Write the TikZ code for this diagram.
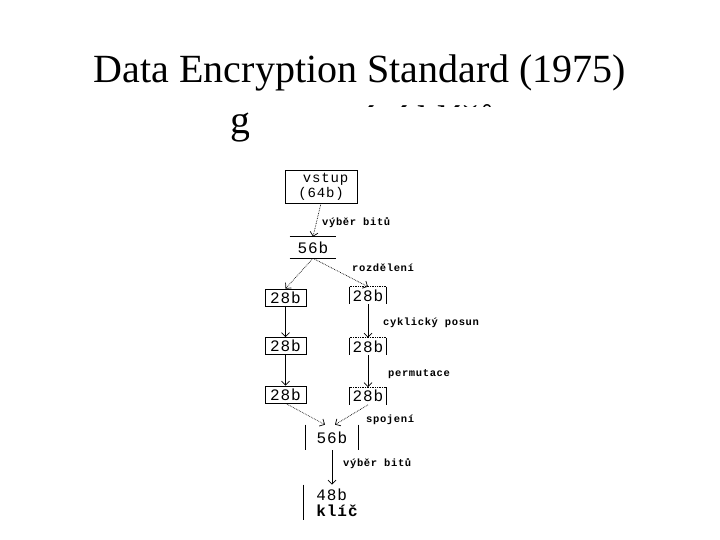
\documentclass[tikz,border=0pt]{standalone}
\usepackage{fontspec}
\setmainfont{Liberation Serif}
\newfontfamily\scanfont[LetterSpace=6]{Liberation Mono}
\usetikzlibrary{arrows.meta, positioning}
\tikzstyle{flow} = [line width=0.7pt, -{Straight Barb[length=4pt,width=8pt]}]
\tikzstyle{faint} = [flow, densely dotted]
\tikzstyle{bitbox} = [draw, line width=0.7pt, minimum width=41pt, minimum height=17pt, inner sep=0pt, font=\scanfont\fontsize{16}{16}\selectfont]
\tikzstyle{openbox} = [bitbox, draw=none]
\tikzstyle{note} = [anchor=west, inner sep=0pt, font=\scanfont\bfseries\fontsize{10.5}{10.5}\selectfont]

\begin{document}
\begin{tikzpicture}[x=1pt, y=-1pt]
    \useasboundingbox (0,0) rectangle (720,540);
    % title
    \node[anchor=base, font=\fontsize{40}{48}\selectfont] (title) at (360,83) {Data Encryption Standard (1975)};
    \node[anchor=base, font=\fontsize{40}{48}\selectfont] (subtitle) at (364,134) {generování klíčů};
    \fill[white] (249,107) rectangle (520,150);
    % key schedule
    \node[bitbox, minimum width=72pt, minimum height=33pt, align=center, font=\scanfont\fontsize{14}{15}\selectfont] (vstup) at (321,186.5) {\ vstup\\(64b)};
    \node[openbox, minimum width=46pt, minimum height=21pt] (mid) at (313,247.5) {56b};
    \draw[line width=0.7pt] (mid.north west) -- (mid.north east) (mid.south west) -- (mid.south east);
    \node[bitbox] (left1) at (285.5,297.5) {28b};
    \node[bitbox] (left2) at (285.5,346) {28b};
    \node[bitbox] (left3) at (285.5,394.5) {28b};
    \node[openbox, minimum width=36pt] (right1) at (368,295.5) {28b};
    \node[openbox, minimum width=36pt] (right2) at (368,346.5) {28b};
    \node[openbox, minimum width=36pt] (right3) at (368,396) {28b};
    \foreach \n in {right1,right2,right3} {
      \draw[line width=0.7pt] (\n.north west) -- (\n.south west) (\n.north east) -- (\n.south east);
      \draw[line width=0.7pt, densely dotted] (\n.north west) -- (\n.north east);
    }
    \node[openbox, minimum width=52pt, minimum height=25pt] (join) at (332,437.5) {56b};
    \draw[line width=0.7pt] (join.north west) -- (join.south west) (join.north east) -- (join.south east);
    \node[openbox, minimum width=0pt, minimum height=35pt, anchor=west, align=left] (key) at (316,502.5) {48b\\\textbf{klíč}};
    \draw[line width=0.7pt] ([xshift=-13pt]key.north west) -- ([xshift=-13pt]key.south west);
    % connectors
    \draw[faint] (vstup.south) -- (mid.north);
    \draw[faint] (mid.south) -- (left1.north);
    \draw[faint] (mid.south) -- (right1.north);
    \draw[flow] (left1) -- (left2);
    \draw[flow] (left2) -- (left3);
    \draw[flow] (right1) -- (right2);
    \draw[flow] (right2) -- (right3);
    \draw[faint] (left3.south) -- ([xshift=-7pt]join.north);
    \draw[faint] (right3.south) -- ([xshift=3pt]join.north);
    \draw[flow] (join.south) -- (join.south |- key.north);
    % labels
    \node[note] (pick1) at (322,223) {výběr bitů};
    \node[note] (split) at (352,268) {rozdělení};
    \node[note] (shift) at (383,323) {cyklický posun};
    \node[note] (perm) at (388,374) {permutace};
    \node[note] (merge) at (366,420) {spojení};
    \node[note] (pick2) at (343,464) {výběr bitů};
\end{tikzpicture}
\end{document}
